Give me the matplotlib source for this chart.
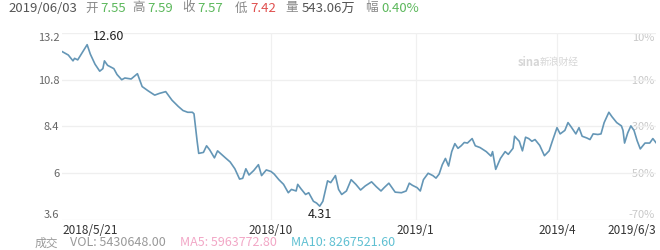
import matplotlib
matplotlib.use('Agg')
import matplotlib.pyplot as plt
import pandas as pd

plt.rcParams['font.family'] = ['Noto Sans CJK SC', 'DejaVu Sans']

# Daily close (sparse trace)
dates = [
    '2018-05-21', '2018-05-25', '2018-05-28', '2018-05-29', '2018-05-31', '2018-06-03',
    '2018-06-06', '2018-06-08', '2018-06-11', '2018-06-14', '2018-06-16', '2018-06-17',
    '2018-06-19', '2018-06-23', '2018-06-25', '2018-06-28', '2018-06-30', '2018-07-04',
    '2018-07-08', '2018-07-11', '2018-07-15', '2018-07-19', '2018-07-22', '2018-07-26',
    '2018-07-30', '2018-08-03', '2018-08-06', '2018-08-09', '2018-08-12', '2018-08-13',
    '2018-08-15', '2018-08-16', '2018-08-19', '2018-08-21', '2018-08-23', '2018-08-26',
    '2018-08-28', '2018-08-31', '2018-09-02', '2018-09-05', '2018-09-08', '2018-09-11',
    '2018-09-13', '2018-09-15', '2018-09-17', '2018-09-20', '2018-09-23', '2018-09-25',
    '2018-09-28', '2018-10-01', '2018-10-03', '2018-10-06', '2018-10-09', '2018-10-12',
    '2018-10-14', '2018-10-17', '2018-10-18', '2018-10-20', '2018-10-23', '2018-10-25',
    '2018-10-28', '2018-10-30', '2018-11-01', '2018-11-03', '2018-11-06', '2018-11-08',
    '2018-11-11', '2018-11-13', '2018-11-15', '2018-11-18', '2018-11-21', '2018-11-24',
    '2018-11-27', '2018-11-30', '2018-12-04', '2018-12-07', '2018-12-10', '2018-12-12',
    '2018-12-15', '2018-12-17', '2018-12-19', '2018-12-23', '2018-12-26', '2018-12-28',
    '2018-12-30', '2019-01-02', '2019-01-04', '2019-01-06', '2019-01-09', '2019-01-12',
    '2019-01-14', '2019-01-16', '2019-01-18', '2019-01-20', '2019-01-22', '2019-01-24',
    '2019-01-26', '2019-01-28', '2019-01-30', '2019-02-01', '2019-02-03', '2019-02-06',
    '2019-02-08', '2019-02-11', '2019-02-15', '2019-02-18', '2019-02-19', '2019-02-21',
    '2019-02-24', '2019-02-27', '2019-03-01', '2019-03-04', '2019-03-05', '2019-03-08',
    '2019-03-10', '2019-03-12', '2019-03-14', '2019-03-16', '2019-03-18', '2019-03-21',
    '2019-03-22', '2019-03-24', '2019-03-27', '2019-03-29', '2019-04-01', '2019-04-03',
    '2019-04-06', '2019-04-08', '2019-04-10', '2019-04-13', '2019-04-15', '2019-04-17',
    '2019-04-20', '2019-04-22', '2019-04-24', '2019-04-27', '2019-04-29', '2019-05-01',
    '2019-05-04', '2019-05-06', '2019-05-09', '2019-05-12', '2019-05-13', '2019-05-14',
    '2019-05-16', '2019-05-18', '2019-05-20', '2019-05-22', '2019-05-24', '2019-05-27',
    '2019-05-30', '2019-06-01', '2019-06-03',
]
close = [
    12.25, 12.07, 11.77, 11.90, 11.82, 12.21,
    12.60, 12.12, 11.60, 11.24, 11.37, 11.77,
    11.54, 11.37, 11.07, 10.80, 10.89, 10.84,
    11.11, 10.45, 10.22, 10.01, 10.10, 10.19,
    9.75, 9.43, 9.22, 9.13, 9.13, 9.05,
    7.64, 7.02, 7.07, 7.41, 7.20, 6.79,
    7.15, 6.93, 6.79, 6.58, 6.23, 5.70,
    5.74, 6.23, 5.91, 6.14, 6.44, 5.88,
    6.17, 6.09, 5.96, 5.67, 5.43, 5.00,
    5.17, 5.09, 5.43, 5.21, 4.91, 5.00,
    4.56, 4.47, 4.31, 4.56, 5.61, 5.52,
    5.88, 5.17, 4.91, 5.09, 5.67, 5.43,
    5.14, 5.35, 5.56, 5.31, 5.09, 5.26,
    5.49, 5.26, 5.03, 5.00, 5.09, 5.49,
    5.38, 5.26, 5.09, 5.67, 6.00, 5.88,
    5.75, 5.96, 6.44, 6.76, 6.37, 7.11,
    7.52, 7.28, 7.41, 7.58, 7.55, 7.78,
    7.41, 7.32, 7.11, 6.88, 7.11, 6.20,
    6.76, 7.11, 6.97, 7.28, 7.90, 7.64,
    7.15, 7.85, 7.78, 7.64, 7.73, 7.43,
    7.25, 6.90, 7.15, 7.64, 8.34, 8.02,
    8.20, 8.60, 8.38, 8.02, 8.34, 7.90,
    7.81, 7.73, 8.02, 7.99, 8.02, 8.60,
    9.13, 8.90, 8.60, 8.43, 8.20, 7.55,
    8.07, 8.43, 8.20, 7.67, 7.25, 7.55,
    7.55, 7.78, 7.57,
]

price_ticks = [3.6, 6, 8.4, 10.8, 13.2]
price_labels = ['3.6', '6', '8.4', '10.8', '13.2']
pct_ticks = [-70, -50, -30, -10, 10]
pct_labels = ['-70%', '-50%', '-30%', '-10%', '10%']
base_price = 12.0

date_ticks = ['2018-05-21', '2018-10-01', '2019-01-01', '2019-04-01', '2019-06-03']
date_labels = ['2018/5/21', '2018/10', '2019/1', '2019/4', '2019/6/3']

high_label, low_label = '12.60', '4.31'

header_date = '2019/06/03'
header_items = [('开', '7.55', '#5cb85c'), ('高', '7.59', '#5cb85c'), ('收', '7.57', '#5cb85c'),
                ('低', '7.42', '#e0504f'), ('量', '543.06万', '#555555'), ('幅', '0.40%', '#5cb85c')]
vol_text = 'VOL: 5430648.00'
ma5_text = 'MA5: 5963772.80'
ma10_text = 'MA10: 8267521.60'

x = pd.to_datetime(dates)
W, H = 660, 250

fig = plt.figure(figsize=(6.6, 2.5), dpi=100)
fig.patch.set_facecolor('white')
ax = fig.add_axes([62 / W, 1 - 220 / H, (656 - 62) / W, (220 - 33) / H])

ax.set_ylim(3.6, 13.2)
ax.set_xlim(x[0], x[-1])

# grid
for p in price_ticks:
    ax.axhline(p, color='#efefef', lw=0.9, zorder=0)
for d in date_ticks[1:-1]:
    ax.axvline(pd.Timestamp(d), color='#f0f0f0', lw=0.9, zorder=0)

ax.plot(x, close, color='#6496b6', lw=1.2, zorder=3)

for s in ax.spines.values():
    s.set_visible(False)

ax.set_yticks(price_ticks)
ax.set_yticklabels(price_labels)
ax.tick_params(axis='y', length=0, pad=2, labelsize=8, labelcolor='#666666')
ylabs = ax.get_yticklabels()
ylabs[0].set_va('bottom')
ylabs[-1].set_va('top')

ax.set_xticks(pd.to_datetime(date_ticks))
ax.set_xticklabels(date_labels)
ax.tick_params(axis='x', length=0, pad=3, labelsize=8.5, labelcolor='#333333')
xlabs = ax.get_xticklabels()
xlabs[0].set_ha('left')
xlabs[-1].set_ha('right')

# right percent axis (inside the plot)
ax2 = ax.twinx()
ax2.set_ylim((3.6 / base_price - 1) * 100, (13.2 / base_price - 1) * 100)
ax2.set_yticks(pct_ticks)
ax2.set_yticklabels(pct_labels)
ax2.tick_params(axis='y', length=0, pad=-1, labelsize=8, labelcolor='#c8c8c8')
for s in ax2.spines.values():
    s.set_visible(False)
for lab in ax2.get_yticklabels():
    lab.set_ha('right')
plabs = ax2.get_yticklabels()
plabs[0].set_va('bottom')
plabs[-1].set_va('top')
ax2.set_zorder(ax.get_zorder() - 1)
ax.patch.set_visible(False)

# high / low annotations
i_hi = close.index(max(close))
i_lo = close.index(min(close))
ax.annotate(high_label, (x[i_hi], close[i_hi]), xytext=(4, 1), textcoords='offset points',
            ha='left', va='bottom', fontsize=9, color='#222222', weight='medium')
ax.annotate(low_label, (x[i_lo], close[i_lo]), xytext=(0, -1), textcoords='offset points',
            ha='center', va='top', fontsize=9, color='#222222', weight='medium')

# watermark
fig.text(518 / W, 1 - 62 / H, 'sina', fontsize=8, color='#d6d6d6', style='italic',
         weight='bold', va='center', ha='left')
fig.text(540 / W, 1 - 62 / H, '新浪财经', fontsize=7, color='#d6d6d6', va='center', ha='left')

# header line
hy = 1 - 8 / H
fig.text(8 / W, hy, header_date, fontsize=9.5, color='#555555', va='center')
xpos = [(85, 100), (132, 147), (182, 197), (235, 250), (285, 302), (365, 381)]
for (lab, val, col), (xl, xv) in zip(header_items, xpos):
    fig.text(xl / W, hy, lab, fontsize=9, color='#888888', va='center')
    fig.text(xv / W, hy, val, fontsize=9.5, color=col, va='center')

# volume line
vy = 1 - 243 / H
fig.text(35 / W, vy, '成交', fontsize=8.5, color='#999999', va='center')
fig.text(70 / W, vy, vol_text, fontsize=9, color='#999999', va='center')
fig.text(180 / W, vy, ma5_text, fontsize=9, color='#f2a7c6', va='center')
fig.text(291 / W, vy, ma10_text, fontsize=9, color='#5fc0d2', va='center')

fig.savefig('out.png', dpi=100, facecolor='white')
